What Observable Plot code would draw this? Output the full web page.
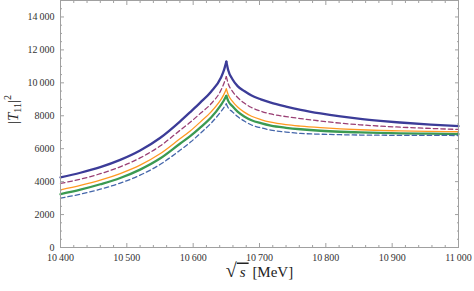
<!DOCTYPE html>
<html><head><meta charset="utf-8">
<script src="https://cdn.jsdelivr.net/npm/d3@7"></script>
<script src="https://cdn.jsdelivr.net/npm/@observablehq/plot@0.6"></script>
<style>html,body{margin:0;padding:0;background:#fff}svg{display:block}</style>
</head><body><div id="chart"></div>
<script>
// Energies sqrt(s) in MeV
const energies   = [10400,10430,10460,10490,10520,10550,10580,10596,10611,10627,10642,10646,10650,10653,10659,10667,10677,10688,10702,10717,10740,10762,10792,10822,10852,10882,10912,10958,11000];
// |T11|^2 series
const blueSolid  = [4260,4540,4880,5320,5890,6650,7650,8240,8810,9460,10320,10720,11290,10750,10230,9800,9500,9230,9000,8800,8560,8360,8140,7960,7810,7690,7590,7460,7370];
const purpleDash = [3890,4150,4480,4900,5440,6160,7110,7620,8150,8730,9560,9930,10380,9930,9500,9110,8770,8500,8280,8110,7950,7830,7680,7550,7450,7370,7310,7230,7170];
const orangeSolid= [3500,3770,4090,4490,5000,5690,6600,7090,7630,8240,9000,9270,9630,9260,8890,8530,8220,7970,7770,7610,7460,7370,7280,7210,7150,7110,7080,7050,7030];
const greenSolid = [3240,3510,3840,4220,4730,5400,6300,6780,7300,7890,8660,8910,9210,8890,8590,8250,7960,7730,7550,7400,7270,7180,7090,7030,6990,6960,6930,6910,6890];
const blueDash   = [3000,3240,3540,3910,4390,5040,5900,6400,6940,7550,8260,8480,8720,8470,8250,7950,7680,7440,7270,7130,7010,6930,6880,6850,6830,6820,6810,6810,6800];
const cuspEnergy = 10650;

const xTicks = [10400,10500,10600,10700,10800,10900,11000];
const xMinorTicks = [10420,10440,10460,10480,10520,10540,10560,10580,10620,10640,10660,10680,10720,10740,10760,10780,10820,10840,10860,10880,10920,10940,10960,10980];
const yTicks = [0,2000,4000,6000,8000,10000,12000,14000];
const yMinorTicks = [500,1000,1500,2500,3000,3500,4500,5000,5500,6500,7000,7500,8500,9000,9500,10500,11000,11500,12500,13000,13500,14500];
const xLabel = "√s [MeV]";
const yLabel = "|T11|2";

const series = [
  {values: blueSolid,   stroke: "#3c3c98", width: 2.3, dash: null},
  {values: purpleDash,  stroke: "#9a3f74", width: 1.3, dash: "4.5,3"},
  {values: orangeSolid, stroke: "#ff9922", width: 1.3, dash: null},
  {values: greenSolid,  stroke: "#3b9a52", width: 2.3, dash: null},
  {values: blueDash,    stroke: "#4466aa", width: 1.3, dash: "4.5,3"}
];

const fmt = d => d >= 10000 ? `${Math.floor(d/1000)}\u2009${String(d%1000).padStart(3,"0")}` : String(d);
const serif = "'Liberation Serif', 'DejaVu Serif', serif";
const frameColor = "#a0a0a0";
const blank = () => "";

// each curve drawn as two smooth branches meeting at the threshold cusp
const lineMarks = series.flatMap(s => {
  const pts = energies.map((e, i) => ({x: e, y: s.values[i]}));
  const left = pts.filter(p => p.x <= cuspEnergy);
  const right = pts.filter(p => p.x >= cuspEnergy);
  return [left, right].map(seg => Plot.line(seg, {
    x: "x", y: "y", curve: "monotone-x",
    stroke: s.stroke, strokeWidth: s.width, strokeDasharray: s.dash
  }));
});

const chart = Plot.plot({
  width: 474, height: 291,
  marginLeft: 60, marginRight: 16, marginTop: 0, marginBottom: 44,
  style: {fontFamily: serif, background: "#fff"},
  x: {domain: [10400, 11000]},
  y: {domain: [0, 15000]},
  marks: [
    ...lineMarks,
    Plot.frame({stroke: frameColor}),
    Plot.axisX(xTicks, {anchor: "bottom", tickSize: -4, tickPadding: 10, tickFormat: fmt, fontSize: 10, stroke: frameColor, fill: "#333", label: null}),
    Plot.axisX(xMinorTicks, {anchor: "bottom", tickSize: -2, tickFormat: blank, stroke: frameColor, label: null}),
    Plot.axisX(xTicks, {anchor: "top", tickSize: -4, tickFormat: blank, stroke: frameColor, label: null}),
    Plot.axisX(xMinorTicks, {anchor: "top", tickSize: -2, tickFormat: blank, stroke: frameColor, label: null}),
    Plot.axisY(yTicks, {anchor: "left", tickSize: -4, tickPadding: 10, tickFormat: fmt, fontSize: 10, stroke: frameColor, fill: "#333", label: null}),
    Plot.axisY(yMinorTicks, {anchor: "left", tickSize: -2, tickFormat: blank, stroke: frameColor, label: null}),
    Plot.axisY(yTicks, {anchor: "right", tickSize: -4, tickFormat: blank, stroke: frameColor, label: null}),
    Plot.axisY(yMinorTicks, {anchor: "right", tickSize: -2, tickFormat: blank, stroke: frameColor, label: null}),
    Plot.text([xLabel], {frameAnchor: "bottom", dy: 29, fontSize: 15, fill: "#222", text: d => d}),
    Plot.text([yLabel], {frameAnchor: "left", dx: -47, rotate: -90, fontSize: 15, fill: "#222", text: d => d})
  ]
});
document.getElementById("chart").appendChild(chart);

// Rich formatting of the axis titles (still real text)
const root = d3.select(chart);
root.selectAll("text").filter(function() { return this.textContent === xLabel; }).each(function() {
  const t = d3.select(this).text(null);
  t.append("tspan").attr("font-size", 20).text("√");
  t.append("tspan").attr("font-style", "italic").attr("text-decoration", "overline").text("\u2009s\u2009");
  t.append("tspan").text(" [MeV]");
});
root.selectAll("text").filter(function() { return this.textContent === yLabel; }).each(function() {
  const t = d3.select(this).text(null);
  t.append("tspan").text("|");
  t.append("tspan").attr("font-style", "italic").text("T");
  t.append("tspan").attr("font-size", 10).attr("dy", 3).text("11");
  t.append("tspan").attr("dy", -3).text("|");
  t.append("tspan").attr("font-size", 10).attr("dy", -7).text("2");
});
</script></body></html>
